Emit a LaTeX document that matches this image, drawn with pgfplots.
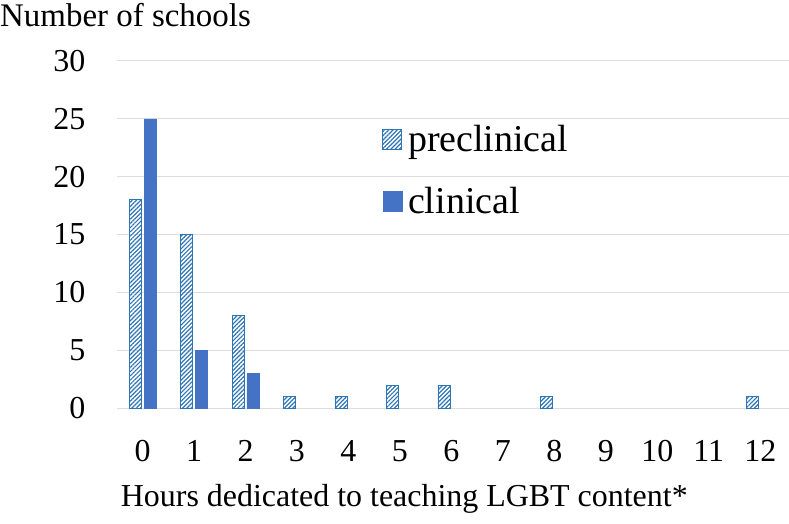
\documentclass[border=0pt]{standalone}
\usepackage{fontspec}
\setmainfont{Liberation Serif}
\usepackage{pgfplots}
\pgfplotsset{compat=1.18}
\usetikzlibrary{patterns.meta}
\definecolor{cblue}{HTML}{4472C4}
\definecolor{pblue}{HTML}{2E75B6}
\begin{document}
\begin{tikzpicture}
\begin{axis}[
  scale only axis, width=673pt, height=348pt,
  xmin=-0.5, xmax=12.55, ymin=0, ymax=30,
  ytick={0,5,...,30}, xtick={0,...,12},
  axis line style={draw=none}, tick style={draw=none},
  ymajorgrids, grid style={black!13, line width=0.8pt},
  tick label style={font=\fontsize{32}{36}\selectfont},
  /pgf/number format/assume math mode=true,
  yticklabel style={xshift=-28pt},
  xticklabel style={yshift=-29pt},
  clip=false,
  legend image code/.code={\draw[#1] (0pt,-10pt) rectangle (19pt,10pt); \path (23pt,0pt);},
  legend style={at={(rel axis cs:0.395,0.82)}, anchor=north west, draw=none, fill=none,
    font=\fontsize{38}{42}\selectfont, row sep=30pt, inner sep=0pt},
  legend cell align=left,
]
\addplot[ybar, bar width=12pt, bar shift=-7.5pt, draw=pblue, line width=0.8pt,
  pattern={Lines[angle=45, distance=3pt, line width=1.2pt]}, pattern color=pblue]
  coordinates {(0,18) (1,15) (2,8) (3,1) (4,1) (5,2) (6,2) (8,1) (12,1)};
\addlegendentry{preclinical}
\addplot[ybar, bar width=12pt, bar shift=7.5pt, draw=cblue, fill=cblue]
  coordinates {(0,25) (1,5) (2,3)};
\addlegendentry{clinical}
\node[anchor=north west, inner sep=0pt, font=\fontsize{33}{38}\selectfont]
  at ([xshift=-117pt, yshift=58pt]rel axis cs:0,1) {Number of schools};
\node[anchor=base, inner sep=0pt, font=\fontsize{32}{36}\selectfont]
  at ([yshift=-98pt]axis cs:5.085,0) {Hours dedicated to teaching LGBT content*};
\path ([xshift=-117pt, yshift=-115pt]rel axis cs:0,0) rectangle ([yshift=61pt]rel axis cs:1,1);
\end{axis}
\end{tikzpicture}
\end{document}
